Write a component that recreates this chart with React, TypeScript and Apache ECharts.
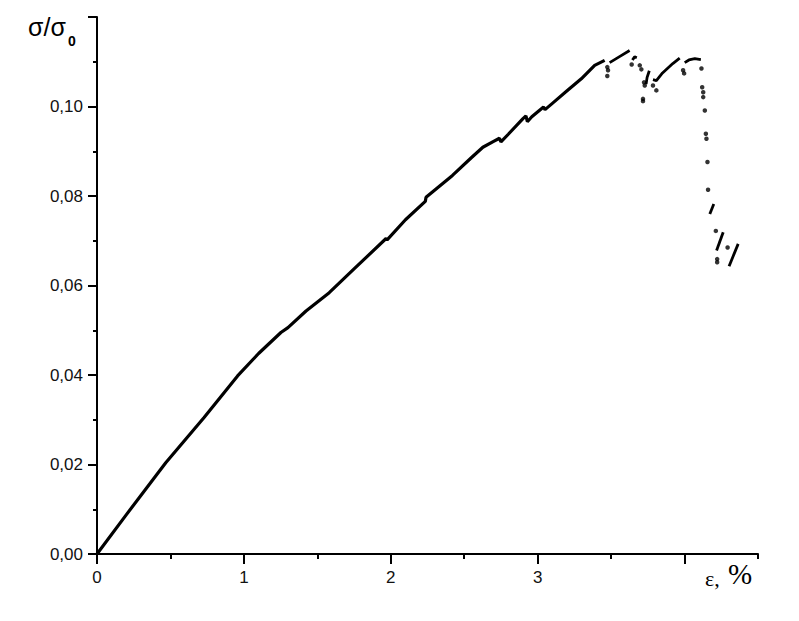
import React, { useEffect, useRef } from "react";
import * as echarts from "echarts";

// Main continuous stress-strain curve [strain %, sigma/sigma0]
const mainCurve: [number, number][] = [
  [0, 0], [0.2, 0.0088], [0.468, 0.0204], [0.729, 0.0305], [0.957, 0.0398],
  [1.1, 0.0448], [1.252, 0.0495], [1.3, 0.0506], [1.423, 0.0543], [1.581, 0.0584],
  [1.75, 0.0637], [1.968, 0.0705], [1.975, 0.0702], [2.1, 0.0747], [2.235, 0.0788],
  [2.24, 0.0797], [2.42, 0.0846], [2.55, 0.0886], [2.627, 0.0909], [2.7, 0.0922],
  [2.74, 0.0929], [2.75, 0.0921], [2.8, 0.0938], [2.9, 0.0973], [2.92, 0.0979],
  [2.93, 0.0966], [2.96, 0.0977], [3.04, 0.0999], [3.05, 0.0993], [3.1, 0.1007],
  [3.2, 0.1035], [3.297, 0.1062], [3.388, 0.1092], [3.456, 0.1103],
];

// Short serration segments after the first drop
const segA: [number, number][] = [[3.49, 0.1098], [3.56, 0.1112], [3.626, 0.1125]];
const segB: [number, number][] = [[3.645, 0.1104], [3.66, 0.1111], [3.675, 0.1109]];
const segC: [number, number][] = [[3.738, 0.105], [3.745, 0.1065], [3.76, 0.108]];
const segD: [number, number][] = [[3.785, 0.106], [3.808, 0.1058], [3.85, 0.1075], [3.92, 0.1096], [3.967, 0.1108]];
const segE: [number, number][] = [[4.001, 0.1098], [4.03, 0.1104], [4.07, 0.1107], [4.111, 0.1105]];
const segF: [number, number][] = [[4.172, 0.076], [4.199, 0.0782]];
const segG: [number, number][] = [[4.218, 0.0678], [4.263, 0.0719]];
const segH: [number, number][] = [[4.303, 0.0643], [4.365, 0.0693]];
const segments = [segA, segB, segC, segD, segE, segF, segG, segH];

// Isolated points (sparse sampling during drops)
const dots: [number, number][] = [
  [3.474, 0.1088], [3.479, 0.1081], [3.474, 0.1068],
  [3.64, 0.1094], [3.695, 0.1092], [3.706, 0.1083],
  [3.724, 0.1054], [3.729, 0.1047], [3.717, 0.1017], [3.717, 0.1012],
  [3.785, 0.1047], [3.808, 0.1036],
  [3.99, 0.1081], [3.997, 0.1074],
  [4.115, 0.1085], [4.12, 0.1043], [4.127, 0.1032], [4.127, 0.1021],
  [4.138, 0.0991], [4.145, 0.0939], [4.149, 0.0928], [4.156, 0.0876], [4.16, 0.0814],
  [4.213, 0.0722], [4.293, 0.0685], [4.222, 0.0659], [4.222, 0.0652],
];

const xMajorTicks = [0, 1, 2, 3, 4];
const xLabelValues = [0, 1, 2, 3];

export default function App() {
  const ref = useRef<HTMLDivElement>(null);
  useEffect(() => {
    document.body.style.margin = "0";
    if (!ref.current) return;
    const chart = echarts.init(ref.current, null, { renderer: "svg" });
    const axisColor = "#000";
    const series: any[] = [
      {
        type: "line",
        data: mainCurve,
        showSymbol: false,
        lineStyle: { color: "#000", width: 3.2 },
        silent: true,
      },
      ...segments.map((s) => ({
        type: "line",
        data: s,
        showSymbol: false,
        lineStyle: { color: "#000", width: 2.8 },
        silent: true,
      })),
      {
        type: "scatter",
        data: dots,
        symbolSize: 4.5,
        itemStyle: { color: "#000" },
        silent: true,
      },
    ];
    chart.setOption({
      animation: false,
      backgroundColor: "#fff",
      grid: { left: 97, right: 41, top: 17, bottom: 67 },
      xAxis: [
        {
          type: "value",
          min: 0,
          max: 4.5,
          interval: 1,
          position: "bottom",
          axisLine: { show: true, onZero: false, lineStyle: { color: axisColor, width: 2 } },
          axisTick: { show: true, length: 10, customValues: xMajorTicks, lineStyle: { color: axisColor, width: 2 } },
          axisLabel: {
            show: true,
            customValues: xLabelValues,
            margin: 15,
            color: "#111",
            fontSize: 17,
            fontFamily: "Liberation Sans, Arial, sans-serif",
            formatter: (v: number) => String(v),
          },
          splitLine: { show: false },
        },
        {
          type: "value",
          min: 0,
          max: 4.5,
          interval: 0.5,
          position: "bottom",
          axisLine: { show: false },
          axisTick: { show: true, length: 5, lineStyle: { color: axisColor, width: 2 } },
          axisLabel: { show: false },
          splitLine: { show: false },
        },
      ],
      yAxis: {
        type: "value",
        min: 0,
        max: 0.12,
        interval: 0.02,
        axisLine: { show: true, onZero: false, lineStyle: { color: axisColor, width: 2 } },
        axisTick: { show: true, length: 9, lineStyle: { color: axisColor, width: 2 } },
        minorTick: { show: true, splitNumber: 2, length: 4, lineStyle: { color: axisColor, width: 2 } },
        axisLabel: {
          margin: 14,
          color: "#111",
          fontSize: 17,
          fontFamily: "Liberation Sans, Arial, sans-serif",
          formatter: (v: number) => (v > 0.119 ? "" : v.toFixed(2).replace(".", ",")),
        },
        splitLine: { show: false },
        minorSplitLine: { show: false },
      },
      graphic: [
        {
          type: "text",
          left: 28,
          top: 14,
          style: { text: "σ/σ", fontSize: 25, fontFamily: "Liberation Sans, Arial, sans-serif", fill: "#000" },
        },
        {
          type: "text",
          left: 68,
          top: 34,
          style: { text: "0", fontSize: 14, fontWeight: "bold", fontFamily: "Liberation Sans, Arial, sans-serif", fill: "#000" },
        },
        {
          type: "text",
          left: 705,
          top: 567,
          style: { text: "ε,", fontSize: 22, fontFamily: "Liberation Serif, Times New Roman, serif", fill: "#000" },
        },
        {
          type: "text",
          left: 728,
          top: 559,
          style: { text: "%", fontSize: 29, fontFamily: "Liberation Serif, Times New Roman, serif", fill: "#000" },
        },
      ],
      series,
    });
    return () => chart.dispose();
  }, []);
  return <div ref={ref} style={{ width: 799, height: 621 }} />;
}
